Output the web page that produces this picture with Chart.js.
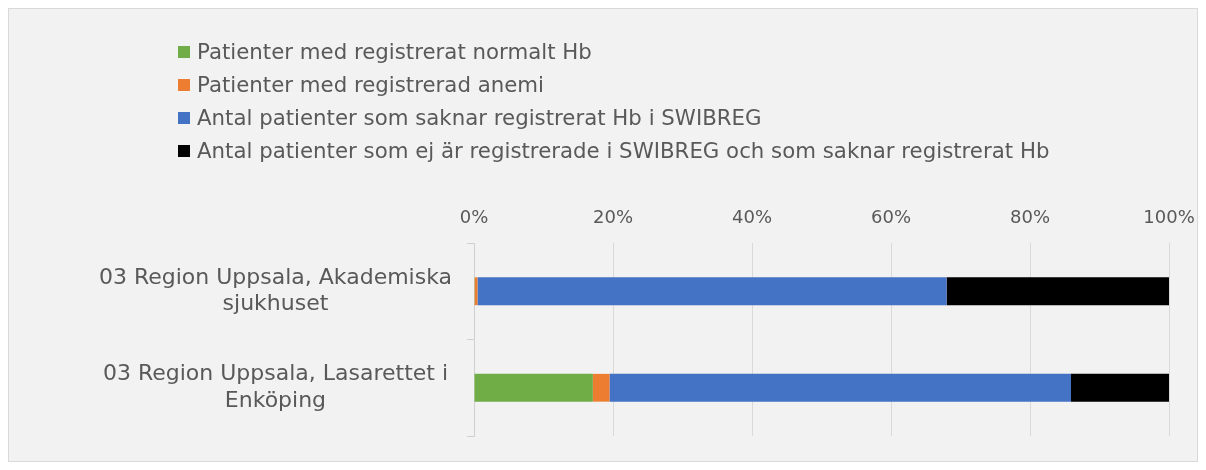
<!DOCTYPE html>
<html>
<head>
<meta charset="utf-8">
<script src="https://cdn.jsdelivr.net/npm/chart.js@4"></script>
<style>
  html, body { margin: 0; padding: 0; background: #ffffff; }
  #wrap { position: relative; width: 1206px; height: 470px; }
  #box {
    position: absolute; left: 8px; top: 8px; width: 1188px; height: 452px;
    background: #f2f2f2; border: 1px solid #d9d9d9;
  }
  #chart { position: absolute; left: 0; top: 0; }
  #legend {
    position: absolute; left: 178px; top: 35px;
    font-family: "DejaVu Sans", sans-serif; font-size: 21.3px; color: #595959;
  }
  .item { height: 33px; display: flex; align-items: center; white-space: nowrap; }
  .swatch { width: 12px; height: 12px; margin-right: 7px; flex: none; }
</style>
</head>
<body>
<div id="wrap">
  <div id="box"></div>
  <canvas id="chart" width="1206" height="470"></canvas>
  <div id="legend"></div>
</div>
<script>
// Hb-registrering per sjukhus, andel patienter (%)
const categories = [
  ['03 Region Uppsala, Akademiska', 'sjukhuset'],
  ['03 Region Uppsala, Lasarettet i', 'Enköping']
];
const seriesNames = [
  'Patienter med registrerat normalt Hb',
  'Patienter med registrerad anemi',
  'Antal patienter som saknar registrerat Hb i SWIBREG',
  'Antal patienter som ej är registrerade i SWIBREG och som saknar registrerat Hb'
];
const normalHb = [0.1, 17.1];
const anemi = [0.4, 2.4];
const saknarHb = [67.5, 66.4];
const ejRegistrerade = [32.0, 14.1];

const COLORS = ['#70ad47', '#ed7d31', '#4472c4', '#000000'];
const TEXT = '#595959';
const FONT = '"DejaVu Sans", sans-serif';

const values = [normalHb, anemi, saknarHb, ejRegistrerade];

const chart = new Chart(document.getElementById('chart'), {
  type: 'bar',
  data: {
    labels: categories,
    datasets: seriesNames.map((name, i) => ({
      label: name,
      data: values[i],
      backgroundColor: COLORS[i],
      borderWidth: 0,
      categoryPercentage: 1,
      barPercentage: 0.288
    }))
  },
  options: {
    indexAxis: 'y',
    responsive: false,
    animation: false,
    layout: { padding: { top: 200, right: 37, bottom: 34, left: 0 } },
    plugins: {
      legend: { display: false },
      tooltip: { enabled: false }
    },
    scales: {
      x: {
        position: 'top',
        stacked: true,
        min: 0,
        max: 100,
        ticks: {
          stepSize: 20,
          padding: 14,
          color: TEXT,
          font: { family: FONT, size: 18 },
          callback: v => v + '%'
        },
        grid: { color: '#d9d9d9', drawTicks: false },
        border: { display: false },
        afterFit: s => { s.height = 43; s.paddingLeft = 0; s.paddingRight = 0; }
      },
      y: {
        stacked: true,
        ticks: {
          padding: 15,
          crossAlign: 'center',
          color: TEXT,
          font: { family: FONT, size: 22, lineHeight: 1.2 }
        },
        grid: { drawOnChartArea: false, tickLength: 7, color: '#d0d0d0' },
        border: { display: true, color: '#d0d0d0' },
        afterFit: s => { s.width = 474; s.paddingTop = 0; s.paddingBottom = 0; }
      }
    }
  }
});

// legend, one entry per line like the original
const legend = document.getElementById('legend');
chart.data.datasets.forEach(ds => {
  const row = document.createElement('div');
  row.className = 'item';
  row.innerHTML = `<span class="swatch" style="background:${ds.backgroundColor}"></span>${ds.label}`;
  legend.appendChild(row);
});
</script>
</body>
</html>
